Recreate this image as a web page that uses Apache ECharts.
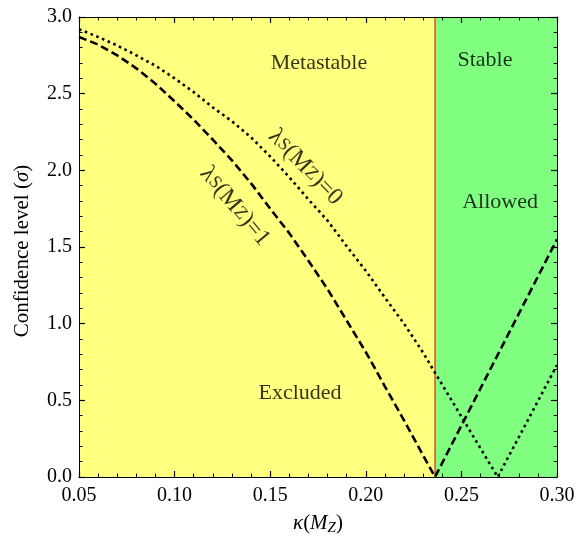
<!DOCTYPE html>
<html><head><meta charset="utf-8">
<script src="https://cdn.jsdelivr.net/npm/echarts@6/dist/echarts.min.js"></script>
<style>html,body{margin:0;padding:0;background:#fff}#c{width:579px;height:537px}</style>
</head><body><div id="c"></div>
<script>
// kappa(M_Z) values and confidence level for lambda_S(M_Z)=1 (dashed)
const kappa1 = [0.05,0.06,0.07,0.08,0.09,0.10,0.11,0.12,0.13,0.14,0.15,0.16,0.17,0.18,0.19,0.20,0.21,0.22,0.23,0.2362,0.30];
const sigma1 = [2.87,2.82,2.75,2.665,2.565,2.45,2.33,2.20,2.065,1.915,1.75,1.59,1.41,1.225,1.02,0.815,0.59,0.37,0.14,0.0,1.55];
// lambda_S(M_Z)=0 (dotted)
const kappa0 = [0.05,0.06,0.07,0.08,0.09,0.10,0.11,0.12,0.13,0.14,0.15,0.16,0.17,0.18,0.19,0.20,0.21,0.22,0.23,0.2362,0.269,0.30];
const sigma0 = [2.92,2.87,2.814,2.75,2.682,2.60,2.51,2.41,2.32,2.215,2.09,1.955,1.81,1.672,1.505,1.345,1.17,1.0,0.81,0.68,0.0,0.73];
// stability boundary
const boundary = 0.2362;
// text labels: [x, y, text]
const regionLabels = [[0.1755,2.696,'Metastable'],[0.2623,2.715,'Stable'],[0.2702,1.795,'Allowed'],[0.1656,0.548,'Excluded']];
const curveLabels = [[0.1315,1.765,'1',-50],[0.1683,2.02,'0',-46]];

const F = 'Liberation Serif';
const chart = echarts.init(document.getElementById('c'));
function axBase(){
  return {
    z:10, axisLine:{show:true,onZero:false,lineStyle:{color:'#000',width:1}},
    axisTick:{show:true,inside:true,length:6,lineStyle:{color:'#000',width:1.2}},
    minorTick:{show:true,splitNumber:5,length:3.5,lineStyle:{color:'#000',width:1}},
    splitLine:{show:false}, minorSplitLine:{show:false}
  };
}
function xa(pos, showLabel){
  return Object.assign(axBase(), {type:'value',position:pos,min:0.05,max:0.30,interval:0.05,
    axisLabel:{show:showLabel,margin:9,fontFamily:F,fontSize:20,color:'#000',formatter:v=>v.toFixed(2)}
  });
}
function ya(pos, showLabel){
  return Object.assign(axBase(), {type:'value',position:pos,min:0,max:3,interval:0.5,
    axisLabel:{show:showLabel,margin:7,fontFamily:F,fontSize:20,color:'#000',formatter:v=>v.toFixed(1)}
  });
}
const lamRich = {
  a:{fontFamily:F,fontSize:24,color:'#000'},
  s:{fontFamily:F,fontSize:18,color:'#000'}
};
chart.setOption({
  animation:false,
  grid:{left:79,right:22,top:17,bottom:60,show:true,backgroundColor:'#80FF80',borderWidth:0},
  xAxis:[xa('bottom',true), xa('top',false)],
  yAxis:[ya('left',true), ya('right',false)],
  graphic:[
    {type:'text',x:318,y:523,style:{text:'{i|κ}{n|(}{i|M}{s|Z}{n|)}',align:'center',verticalAlign:'middle',
      rich:{i:{fontFamily:F,fontSize:21,fontStyle:'italic',fill:'#000'},
            n:{fontFamily:F,fontSize:21,fill:'#000'},
            s:{fontFamily:F,fontSize:15,fontStyle:'italic',fill:'#000',padding:[10,0,0,0]}}}},
    {type:'text',x:22,y:251,rotation:Math.PI/2,style:{text:'{n|Confidence level (}{i|σ}{n|)}',align:'center',verticalAlign:'middle',
      rich:{i:{fontFamily:F,fontSize:21,fontStyle:'italic',fill:'#000'},
            n:{fontFamily:F,fontSize:21,fill:'#000'}}}}
  ],
  series:[
    {type:'line',data:[[0.05,3],[boundary,3]],symbol:'none',silent:true,z:1,
     lineStyle:{width:0,opacity:0},areaStyle:{color:'#FFFF80',opacity:1,origin:'start'}},
    {type:'line',data:[[boundary,0],[boundary,3]],symbol:'none',silent:true,
     lineStyle:{color:'#E00000',width:1},z:2},
    {type:'line',name:'lam1',data:kappa1.map((k,i)=>[k,sigma1[i]]),symbol:'none',
     lineStyle:{color:'#000',width:2.6,type:[8,4]},z:3},
    {type:'line',name:'lam0',data:kappa0.map((k,i)=>[k,sigma0[i]]),symbol:'none',
     lineStyle:{color:'#000',width:2.6,type:[2.6,3.6]},z:3},
    {type:'scatter',symbolSize:0,data:regionLabels.map(r=>({value:[r[0],r[1]],label:{formatter:r[2]}})),
     label:{show:true,position:'inside',fontFamily:F,fontSize:22,color:'#000'},z:4,silent:true},
    {type:'scatter',symbolSize:0,data:curveLabels.map(r=>({value:[r[0],r[1]],
       label:{rotate:r[3],formatter:'{a|λ}{s|S}{a|(M}{s|Z}{a|)='+r[2]+'}'}})),
     label:{show:true,position:'inside',rich:lamRich,color:'#000'},z:4,silent:true}
  ]
});
</script></body></html>
